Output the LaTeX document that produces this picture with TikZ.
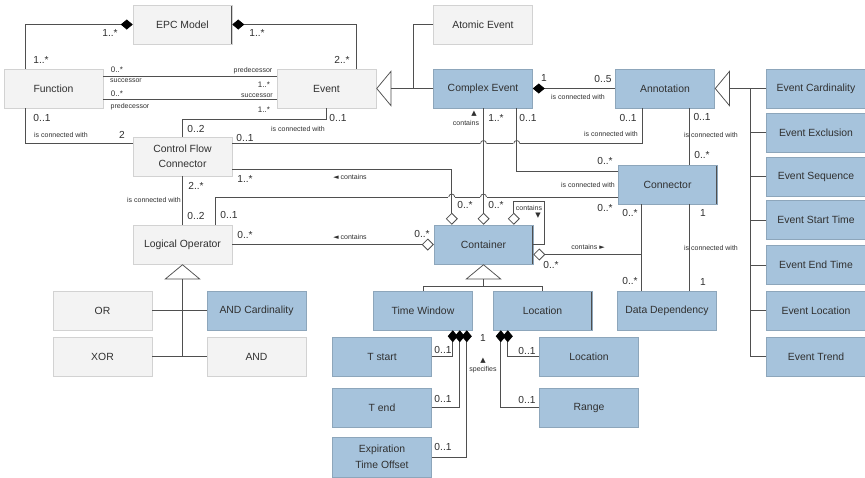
\documentclass[tikz,border=0pt]{standalone}
\usepackage{fontspec}
\setmainfont{Liberation Sans}
\newfontfamily\symf{DejaVu Sans}
\usetikzlibrary{arrows.meta,calc}
\definecolor{bgray}{HTML}{F3F3F3}
\definecolor{bblue}{HTML}{A6C3DC}
\definecolor{lc}{HTML}{4F4F4F}
\definecolor{tc}{HTML}{303030}
\definecolor{bord}{HTML}{D2D2D2}
\tikzset{
 box/.style={rectangle, minimum width=99pt, minimum height=39pt, inner sep=1pt, fill=bgray, draw=bord, line width=0.5pt, text=tc,
   font=\fontsize{10.4}{15.5}\selectfont, align=center},
 redge/.style={path picture={\draw[lc, line width=1.4pt] (path picture bounding box.north east) -- (path picture bounding box.south east);}},
 bluebox/.style={box, fill=bblue, draw=bblue!85!black},
 conn/.style={draw=lc, line width=0.75pt},
 mult/.style={text=tc, font=\fontsize{10.2}{11}\selectfont, inner sep=0pt},
 smult/.style={text=tc, font=\fontsize{8}{9}\selectfont, inner sep=0pt},
 role/.style={text=tc, font=\fontsize{7}{8}\selectfont, inner sep=0pt},
 comp/.style={{Diamond[length=12pt,width=10pt,fill=black,color=black]}-},
 aggr/.style={{Diamond[length=12pt,width=12pt,fill=white]}-},
 gen/.style={-{Triangle[length=15pt,width=36pt,fill=white]}},
 hop/.pic={\fill[white] (-3.4,-1) rectangle (3.4,1); \draw[conn] (-3,0) arc[start angle=180,end angle=0,radius=3pt];}
}
\begin{document}
\begin{tikzpicture}[x=1pt,y=-1pt]
\useasboundingbox[fill=white] (0,0) rectangle (865,477);
% ---------- boxes
\node[box,redge] (epc) at (182.5,24.5) {EPC Model};
\node[box,redge] (ae) at (483,24.5) {Atomic Event};
\node[box] (fn) at (53.5,88.5) {Function};
\node[box] (ev) at (326.5,88.5) {Event};
\node[bluebox,redge] (ce) at (483,88.5) {Complex Event};
\node[bluebox,redge] (ann) at (665,88.5) {Annotation};
\node[bluebox] (ec) at (816,88.5) {Event Cardinality};
\node[bluebox] (ee) at (816,132.5) {Event Exclusion};
\node[bluebox] (es) at (816,176.5) {Event Sequence};
\node[bluebox] (est) at (816,220) {Event Start Time};
\node[bluebox] (eet) at (816,265) {Event End Time};
\node[bluebox] (el) at (816,310.5) {Event Location};
\node[bluebox] (etr) at (816,356.5) {Event Trend};
\node[box] (cfc) at (182.5,156.5) {Control Flow\\Connector};
\node[box] (lo) at (182.5,244.5) {Logical Operator};
\node[box] (or) at (102.5,310.5) {OR};
\node[box] (xor) at (102.5,356.5) {XOR};
\node[bluebox] (andc) at (256.5,310.5) {AND Cardinality};
\node[box] (and) at (256.5,356.5) {AND};
\node[bluebox,redge] (cont) at (483.5,244.5) {Container};
\node[bluebox,redge] (con) at (667.5,184.5) {Connector};
\node[bluebox,redge] (tw) at (423,310.5) {Time Window};
\node[bluebox,redge] (loc) at (542.5,310.5) {Location};
\node[bluebox,redge] (dd) at (667,310.5) {Data Dependency};
\node[bluebox] (ts) at (382,356.5) {T start};
\node[bluebox] (te) at (382,407.5) {T end};
\node[bluebox, minimum height=40pt] (eto) at (382,457) {Expiration\\Time Offset};
\node[bluebox,redge] (locl) at (589,356.5) {Location};
\node[bluebox,redge] (rng) at (589,407.5) {Range};
% ---------- helper coordinates
\coordinate (pA) at ($(cfc.east)+(0,-13)$);
\coordinate (pB) at ($(cfc.east)+(0,12.5)$);
\coordinate (pC) at ($(con.west)+(0,12.5)$);
\coordinate (ceb) at ($(ce.south east)+(-16,0)$);
\coordinate (d1) at ($(cont.north west)+(18,0)$);
\coordinate (d3) at ($(cont.north west)+(80,0)$);
\coordinate (lot) at ($(lo.north west)+(83,0)$);
\coordinate (cj) at ($(con.south west)+(24,0)$);
\coordinate (cr) at ($(con.south west)+(72,0)$);
\coordinate (crt) at ($(con.north west)+(72,0)$);
\coordinate (ce2) at ($(cont.east)+(0,10)$);
\coordinate (bus) at ($(ann.east)+(36,0)$);
\coordinate (cb) at ($(cont.south)+(0,22)$);
% ---------- EPC model compositions
\draw[conn,comp] (epc.west) -| ($(fn.north west)+(22,0)$);
\draw[conn,comp] (epc.east) -| ($(ev.north east)+(-20,0)$);
% ---------- Function - Event
\draw[conn] ($(fn.east)+(0,-12.5)$) -- ($(ev.west)+(0,-12.5)$);
\draw[conn] ($(fn.east)+(0,11)$) -- ($(ev.west)+(0,11)$);
% ---------- Function / Event - CFC
\draw[conn] ($(fn.south west)+(22,0)$) |- (cfc.west |- pA);
\draw[conn] (ev.south) -- ++(0,11) -| (cfc.north);
% ---------- horizontals with hops
\draw[conn] (pA) -| ($(ann.south west)+(27,0)$);
\draw[conn] (lot) |- (pC);
\pic at (cont.north |- pA) {hop};
\pic at (ceb |- pA) {hop};
\pic at (d1 |- pC) {hop};
\pic at (cont.north |- pC) {hop};
% ---------- container aggregations
\draw[conn,aggr] (cont.north) -- (cont.north |- ce.south);
\draw[conn,aggr] (d1) |- (pB);
\draw[conn,aggr] (d3) -- ++(0,-23) -| ($(cont.east)+(11,0)$) -- (cont.east);
\draw[conn,aggr] (cont.west) -- (lo.east);
\draw[conn,aggr] (ce2) -- (cj |- ce2);
\draw[conn] (cj) -- (cj |- dd.north);
% ---------- complex event / connector / annotation
\draw[conn] (ceb) |- ($(con.west)+(0,-13.5)$);
\draw[conn,comp] (ce.east) -- (ann.west);
\draw[conn] (crt) -- (crt |- ann.south);
\draw[conn] (cr) -- (cr |- dd.north);
% ---------- CFC - logical operator
\draw[conn] (cfc.south) -- (lo.north);
% ---------- generalizations
\draw[conn,gen] (ce.west) -- (ev.east);
\draw[conn] (ae.west) -| ($(ev.east)+(37,0)$);
\draw[conn,gen] (ec.west) -- (ann.east);
\draw[conn] (bus) |- (etr.west);
\foreach \b in {ee,es,est,eet,el} {\draw[conn] (bus |- \b.west) -- (\b.west);}
\draw[conn,gen] (lo.south |- xor.east) -- (lo.south);
\draw[conn] (or.east) -- (andc.west);
\draw[conn] (xor.east) -- (and.west);
\draw[conn,gen] (cb) -- (cont.south);
\draw[conn] (tw.north) |- (cb) -| (loc.north);
% ---------- time window / location compositions
\draw[conn,comp] ($(tw.south east)+(-6,0)$) |- (eto.east);
\draw[conn,comp] ($(tw.south east)+(-13,0)$) |- (te.east);
\draw[conn,comp] ($(tw.south east)+(-20,0)$) |- (ts.east);
\draw[conn,comp] ($(loc.south west)+(8,0)$) |- (rng.west);
\draw[conn,comp] ($(loc.south west)+(15,0)$) |- (locl.west);
% ---------- multiplicities
\node[mult] (m1) at (110,33) {1..*};
\node[mult] (m2) at (41,60) {1..*};
\node[mult] (m3) at (257,33) {1..*};
\node[mult] (m4) at (342,60) {2..*};
\node[mult] (m5) at (42,118) {0..1};
\node[mult] (m6) at (122,135) {2};
\node[mult] (m7) at (338,118) {0..1};
\node[mult] (m8) at (196,129) {0..2};
\node[mult] (m9) at (245,138) {0..1};
\node[mult] (m10) at (245,179) {1..*};
\node[mult] (m11) at (196,186) {2..*};
\node[mult] (m12) at (196,216) {0..2};
\node[mult] (m13) at (229,215) {0..1};
\node[mult] (m14) at (245,235) {0..*};
\node[mult] (m15) at (422,234) {0..*};
\node[mult] (m16) at (465,205) {0..*};
\node[mult] (m17) at (496,205) {0..*};
\node[mult] (m18) at (496,118) {1..*};
\node[mult] (m19) at (528,118) {0..1};
\node[mult] (m20) at (544,78) {1};
\node[mult] (m21) at (603,79) {0..5};
\node[mult] (m22) at (628,118) {0..1};
\node[mult] (m23) at (702,117) {0..1};
\node[mult] (m24) at (702,155) {0..*};
\node[mult] (m25) at (605,161) {0..*};
\node[mult] (m26) at (605,208) {0..*};
\node[mult] (m27) at (630,213) {0..*};
\node[mult] (m28) at (703,213) {1};
\node[mult] (m29) at (551,265) {0..*};
\node[mult] (m30) at (630,281) {0..*};
\node[mult] (m31) at (703,282) {1};
\node[mult] (m32) at (443,350) {0..1};
\node[mult] (m33) at (443,399) {0..1};
\node[mult] (m34) at (443,447) {0..1};
\node[mult] (m35) at (483,338) {1};
\node[mult] (m36) at (527,351) {0..1};
\node[mult] (m37) at (527,400) {0..1};
\node[smult] (s1) at (117,70) {0..*};
\node[smult] (s2) at (264,85) {1..*};
\node[smult] (s3) at (117,94) {0..*};
\node[smult] (s4) at (264,110) {1..*};
% ---------- role and association labels
\node[role] (r1) at (253,71) {predecessor};
\node[role] (r2) at (126,81) {successor};
\node[role] (r3) at (257,96) {successor};
\node[role] (r4) at (130,107) {predecessor};
\node[role] (r5) at (61,135) {is connected with};
\node[role] (r6) at (298,129) {is connected with};
\node[role] (r7) at (154,200) {is connected with};
\node[role] (r8) at (350,177) {{\symf ◄} contains};
\node[role] (r9) at (350,237) {{\symf ◄} contains};
\node[role] (r10) at (466,123) {contains};
\node[role] (r10b) at (474,114) {\symf ▲};
\node[role] (r11) at (529,208) {contains};
\node[role] (r11b) at (538,216) {\symf ▼};
\node[role] (r12) at (588,185) {is connected with};
\node[role] (r13) at (578,97) {is connected with};
\node[role] (r14) at (611,134) {is connected with};
\node[role] (r15) at (711,135) {is connected with};
\node[role] (r16) at (711,248) {is connected with};
\node[role] (r17) at (588,247) {contains {\symf ►}};
\node[role] (r18) at (483,361) {\symf ▲};
\node[role] (r18b) at (483,370) {specifies};
\end{tikzpicture}
\end{document}
